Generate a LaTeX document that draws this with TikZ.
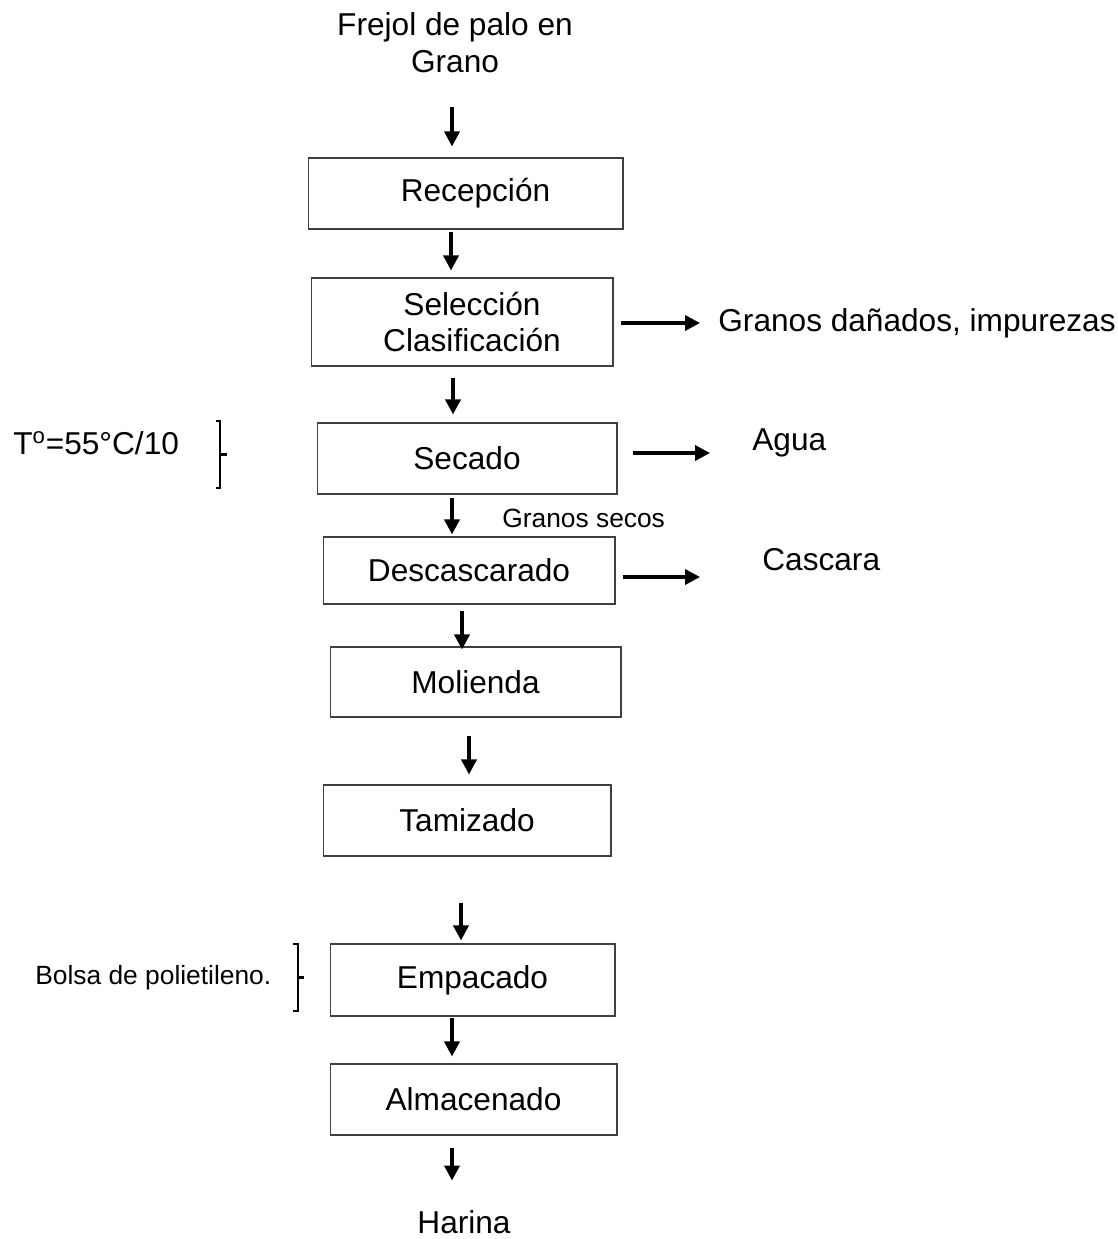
\documentclass[tikz,border=0pt]{standalone}
\usepackage{fontspec}
\setmainfont{Liberation Sans}
\usepackage{tikz}
\usetikzlibrary{arrows.meta}
\tikzset{
  paso/.style={rectangle, draw=black!75, line width=0.6pt, align=center,
    inner sep=0pt, font=\fontsize{18}{21}\selectfont},
  txt/.style={inner sep=0pt, align=center, font=\fontsize{18}{21}\selectfont},
  txtp/.style={inner sep=0pt, font=\fontsize{15}{18}\selectfont},
  fl/.style={-{Triangle[length=3mm,width=3mm]}, line width=2pt},
  llave/.style={line width=1.2pt},
}
\begin{document}
\begin{tikzpicture}[x=0.02cm, y=-0.02cm]
  \useasboundingbox (0,0) rectangle (1117,1239);
  % proceso
  \node[txt] (fre) at (455,43) {Frejol de palo en\\Grano};
  \node[paso, minimum width=6.3cm, minimum height=1.42cm] (rec) at (465.5,193.5) {\hspace*{0.4cm}Recepción};
  \node[paso, minimum width=6.04cm, minimum height=1.76cm] (sel) at (462,322) {\hspace*{0.4cm}Selección\\\hspace*{0.4cm}Clasificación};
  \node[paso, minimum width=6cm, minimum height=1.42cm] (sec) at (467,458.5) {Secado};
  \node[paso, minimum width=5.84cm, minimum height=1.34cm] (des) at (469,570.5) {Descascarado};
  \node[paso, minimum width=5.82cm, minimum height=1.4cm] (mol) at (475.5,682) {Molienda};
  \node[paso, minimum width=5.76cm, minimum height=1.42cm] (tam) at (467,820.5) {Tamizado};
  \node[paso, minimum width=5.7cm, minimum height=1.44cm] (emp) at (472.5,980) {Empacado};
  \node[paso, minimum width=5.74cm, minimum height=1.42cm] (alm) at (473.5,1099.5) {Almacenado};
  \node[txt] (har) at (464,1222) {Harina};
  % salidas y notas
  \node[txt, anchor=west] (dan) at (718,323) {Granos dañados, impurezas};
  \node[txt, anchor=west] (agua) at (752,443) {Agua};
  \node[txt, anchor=west] (cas) at (762,560) {Cascara};
  \node[txtp, anchor=west] (gs) at (502,518) {Granos secos};
  \node[txt, anchor=west] (temp) at (13,443) {T\textsuperscript{o}=55°C/10};
  \node[txtp, anchor=west] (bol) at (35,978) {Bolsa de polietileno.};
  % flechas
  \draw[fl, shorten <=0.68cm, shorten >=0.22cm] (fre.south -| 452,0) -- (rec.north -| 452,0);
  \draw[fl, shorten <=0.04cm, shorten >=0.14cm] (rec.south -| 451,0) -- (sel.north -| 451,0);
  \draw[fl, shorten <=0.22cm, shorten >=0.16cm] (sel.south -| 453,0) -- (sec.north -| 453,0);
  \draw[fl, shorten <=0.06cm, shorten >=0.04cm] (sec.south -| 452,0) -- (des.north -| 452,0);
  \draw[fl, shorten <=0.12cm, shorten >=-0.06cm] (des.south -| 462,0) -- (mol.north -| 462,0);
  \draw[fl, shorten <=0.36cm, shorten >=0.2cm] (mol.south -| 469,0) -- (tam.north -| 469,0);
  \draw[fl, shorten <=0.92cm, shorten >=0.06cm] (tam.south -| 461,0) -- (emp.north -| 461,0);
  \draw[fl, shorten <=0.02cm, shorten >=0.14cm] (emp.south -| 452,0) -- (alm.north -| 452,0);
  \draw[fl, shorten <=0.24cm, shorten >=0.59cm] (alm.south -| 452,0) -- (har.north -| 452,0);
  \draw[fl, shorten <=0.14cm, shorten >=0.36cm] (sel.east |- 0,323) -- (dan.west |- 0,323);
  \draw[fl, shorten <=0.3cm, shorten >=0.84cm] (sec.east |- 0,453) -- (agua.west |- 0,453);
  \draw[fl, shorten <=0.14cm, shorten >=1.24cm] (des.east |- 0,577) -- (cas.west |- 0,577);
  % llaves
  \draw[llave] (216,421) -- (220,421) -- (220,488) -- (216,488) (220,454.5) -- (227,454.5);
  \draw[llave] (293,944) -- (298,944) -- (298,1011) -- (293,1011) (298,977.5) -- (304,977.5);
\end{tikzpicture}
\end{document}
